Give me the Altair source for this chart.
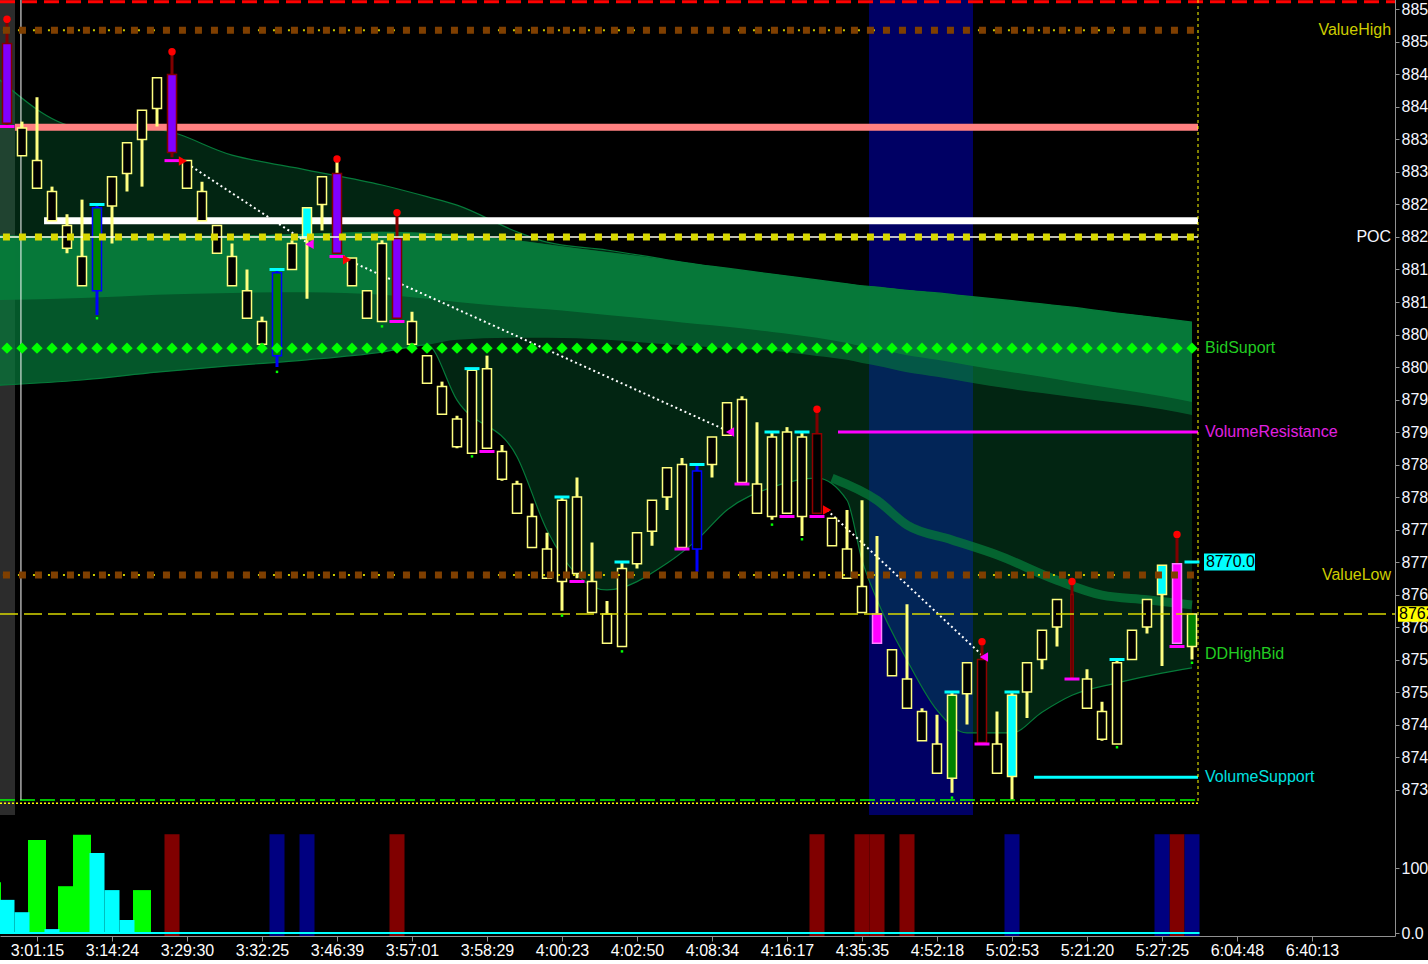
import altair as alt
import pandas as pd

# ---------------------------------------------------------------- candles
open_ = [8849.75, 8832.5, 8827.5, 8822.5, 8818.25, 8812.5, 8811.75, 8824.75, 8829.75, 8835,
         8839.75, 8845, 8827.5, 8822.5, 8817.5, 8812.5, 8807.5, 8803.5, 8801.75, 8815,
         8819.75, 8825, 8829.75, 8812.5, 8807.5, 8807, 8819.75, 8803.5, 8797.5, 8792.75,
         8787.75, 8786.75, 8787.5, 8782.75, 8777.5, 8772.25, 8767.5, 8767, 8768.25, 8762.25,
         8757.5, 8757, 8769.75, 8774.75, 8780, 8772.25, 8772, 8785, 8789.5, 8782.25,
         8777.5, 8777, 8777.5, 8777, 8789.75, 8772.5, 8767.5, 8762.25, 8762, 8752.5,
         8747.5, 8742.5, 8737.5, 8736.75, 8749.75, 8755, 8737.5, 8737, 8750, 8755,
         8760, 8765, 8747.5, 8742.75, 8742, 8755, 8760, 8765, 8769.75, 8757]
high = [8853.5, 8837.75, 8841.5, 8827.75, 8823.5, 8825.75, 8825, 8829.25, 8834.5, 8839.5,
        8844.5, 8848.5, 8831.75, 8828.5, 8821.75, 8819, 8815, 8807.75, 8815, 8819.5,
        8824.5, 8829.25, 8832, 8816.75, 8811.75, 8819.5, 8823.75, 8808.5, 8801.75, 8797.75,
        8792.5, 8799.75, 8801.75, 8788, 8782.5, 8779, 8774.5, 8780, 8783, 8773,
        8764, 8770, 8774.5, 8779.5, 8784.5, 8786, 8785, 8789.25, 8794.5, 8795.5,
        8791.5, 8790, 8790.75, 8790, 8793.5, 8776.75, 8778, 8779.5, 8774, 8756.5,
        8763.5, 8747.5, 8746.5, 8750, 8754.5, 8757.75, 8747, 8750, 8754.5, 8759.5,
        8764.25, 8767, 8753.5, 8748.5, 8755, 8759.5, 8764.25, 8769.5, 8774.25, 8762]
low = [8837.25, 8832.5, 8827.5, 8822.5, 8817.5, 8812.5, 8808, 8819, 8827, 8827.75,
       8837, 8832.25, 8827.5, 8822.5, 8817.5, 8812.5, 8807.5, 8803.5, 8800, 8815,
       8810.5, 8821, 8817.5, 8812.5, 8807.5, 8807, 8807.5, 8803.5, 8797.5, 8792.75,
       8787.5, 8786.75, 8787.5, 8782.5, 8777.5, 8772.25, 8767.5, 8762.5, 8767.5, 8762.25,
       8757.5, 8757, 8769, 8772.5, 8778, 8772.25, 8768.5, 8783, 8789.5, 8782.25,
       8777.5, 8776.5, 8777.5, 8774, 8777.5, 8772.5, 8767.5, 8762.25, 8757.5, 8752.5,
       8747.5, 8742.5, 8737.5, 8734.5, 8745, 8742.25, 8737.5, 8733.5, 8746, 8753.5,
       8757, 8752.25, 8747.5, 8742.5, 8742, 8755, 8759, 8754, 8757.5, 8755]
close = [8837.5, 8836.75, 8831.75, 8827, 8821.75, 8817, 8824.5, 8829.25, 8834.5, 8839.5,
         8844.5, 8833, 8831.75, 8827, 8821.75, 8817, 8811.75, 8807, 8814.5, 8819,
         8824.5, 8829.25, 8817.5, 8816.75, 8811.75, 8819, 8807.5, 8807, 8801.75, 8797,
         8792, 8799.5, 8799.75, 8787, 8782, 8777, 8772, 8779.5, 8780, 8767,
         8762, 8769, 8774.5, 8779.5, 8784.5, 8785, 8784, 8789.25, 8794.5, 8795,
         8782, 8789.25, 8790, 8789.25, 8777.5, 8776.75, 8772, 8766.25, 8757.5, 8756.5,
         8752, 8747, 8742, 8749.5, 8754.5, 8742.25, 8742, 8749.5, 8754.5, 8759.5,
         8764.25, 8752.25, 8752, 8747, 8754.5, 8759.5, 8764.25, 8769.5, 8757.5, 8762]
# bar painting code per candle
bar_style = ("pyyyyygyyy" "ypyyyyyygy" "cyPyyypyyy" "yyyyyyyyyy" "yyyyyybyyy"
             "yyyyryyymy" "yyyGyrycyy" "ytyyyyycMG")

# ---------------------------------------------------------------- markers
red_dot_i = [0, 11, 22, 26, 54, 65, 71, 78]
high_tick_i = [6, 18, 31, 37, 41, 46, 51, 53, 63, 67, 74, 79]
high_tick_p = [8825, 8815, 8799.75, 8780, 8770, 8785, 8790, 8790, 8750, 8750, 8755, 8770]
low_tick_i = [0, 11, 22, 26, 32, 38, 45, 49, 52, 54, 65, 71, 78]
low_tick_p = [8837, 8831.75, 8817, 8807, 8787, 8767, 8772, 8782, 8777, 8777, 8742, 8752, 8757]
green_dot_i = [6, 18, 25, 31, 37, 41, 51, 53, 63, 74, 79]
green_dot_p = [8807.5, 8799.25, 8806.25, 8786.25, 8761.75, 8756.25, 8775.75, 8773.5,
               8733.75, 8741.5, 8754.5]
sell_x = [11.73, 22.67, 54.67]
sell_p = [8831.7, 8816.5, 8778.0]
buy_x = [20.17, 48.2, 65.13]
buy_p = [8818.9, 8790.0, 8755.4]

# ---------------------------------------------------------------- levels
top_red = 8856.2
value_high = 8851.8
salmon_level = 8836.9
white_level = 8822.5
poc = 8820.0
bid_support = 8802.9
vol_resistance = 8790.0
marker_price = 8770.0
value_low = 8768.0
last_price = 8762.0
dd_high_bid = 8755.85
vol_support = 8736.9
green_floor = 8733.4
yellow_floor = 8732.9

# ---------------------------------------------------------------- ribbon
mesh_i = [-0.5, 5, 10, 15, 20, 25, 28, 30, 34, 36, 40, 44, 46, 48, 51, 54, 56, 57, 58, 60,
          62, 64, 67, 69, 71, 74, 77, 79]
mesh_top = [8844.2, 8836.8, 8836.5, 8832.6, 8830.3, 8828.0, 8826.2, 8824.9, 8820.8, 8819.2,
            8818.0, 8816.5, 8815.8, 8815.2, 8814.3, 8813.4, 8812.8, 8812.5, 8812.3, 8811.8,
            8811.4, 8810.9, 8810.2, 8809.7, 8809.2, 8808.3, 8807.5, 8806.9]
band_top = [8820.3, 8820.0, 8820.2, 8820.2, 8820.5, 8820.8, 8820.6, 8820.3, 8819.5, 8818.9,
            8817.7, 8816.5, 8815.8, 8815.2, 8814.3, 8813.4, 8812.8, 8812.5, 8812.3, 8811.8,
            8811.4, 8810.9, 8810.2, 8809.7, 8809.2, 8808.3, 8807.5, 8806.9]
band_solid_bot = [8810.3, 8810.6, 8811.1, 8811.4, 8811.5, 8811.1, 8810.5, 8810.0, 8809.2, 8808.9,
                  8808.0, 8807.1, 8806.6, 8806.2, 8805.4, 8804.5, 8803.7, 8803.2, 8802.8, 8801.8,
                  8801.1, 8800.3, 8799.2, 8798.5, 8797.7, 8796.6, 8795.5, 8794.6]
band_bot = [8797.2, 8798.0, 8799.2, 8800.2, 8801.1, 8802.3, 8803.4, 8804.2, 8804.5, 8804.5,
            8804.2, 8803.5, 8803.2, 8802.9, 8802.5, 8801.7, 8801.1, 8800.6, 8800.2, 8799.2,
            8798.5, 8797.7, 8796.6, 8796.0, 8795.4, 8794.5, 8793.5, 8792.6]
fan_bot = [8797.2, 8798.0, 8799.2, 8800.2, 8801.1, 8802.3, 8803.4, 8794.9, 8786.2, 8774.9,
           8765.7, 8769.8, 8773.4, 8778.0, 8781.5, 8782.9, 8779.5, 8770.3, 8764.2, 8754.9,
           8747.2, 8743.7, 8743.7, 8746.9, 8749.5, 8751.4, 8752.9, 8753.7]
band2_i = [55, 58, 60, 63, 66, 70, 73, 76, 79]
band2_p = [8782.9, 8779.5, 8775.7, 8773.4, 8771.1, 8767.2, 8764.9, 8764.2, 8763.4]

# ---------------------------------------------------------------- lower panel
green_vol_i = [-1, 2, 4, 5, 9]
green_vol = [78, 143, 72, 151, 66]
cyan_vol_i = [0, 1, 3, 6, 7, 8]
cyan_vol = [51, 32, 6, 123, 66, 20]
signal_red_i = [11, 26, 54, 57, 58, 60, 78]
signal_blue_i = [18, 20, 67, 77, 79]
signal_height = 152

time_labels = ["3:01:15", "3:14:24", "3:29:30", "3:32:25", "3:46:39", "3:57:01", "3:58:29",
               "4:00:23", "4:02:50", "4:08:34", "4:16:17", "4:35:35", "4:52:18", "5:02:53",
               "5:21:20", "5:27:25", "6:04:48", "6:40:13"]
time_ticks = [2 + 5 * k for k in range(len(time_labels))]
price_ticks = list(range(8735, 8860, 5))

# ---------------------------------------------------------------- styling
FONT = "Liberation Sans"
MESH = "#067a3a"
FILL = {"y": "#000000", "p": "#8000ff", "P": "#8000ff", "g": "#008000", "G": "#008000",
        "b": "#000000", "c": "#00ffff", "m": "#ff00ff", "M": "#ff00ff", "r": "#000000",
        "t": "#000000"}
STROKE = {"y": "#ffff80", "p": "#800000", "P": "#800000", "g": "#0000ff", "G": "#ffff80",
          "b": "#0000ff", "c": "#ffff80", "m": "#ff80ff", "M": "#ff80ff", "r": "#900000",
          "t": "#900000"}
WICK = {"y": "#ffff80", "p": "#800000", "P": "#ffff80", "g": "#0000ff", "G": "#ffff80",
        "b": "#0000ff", "c": "#ffff80", "m": "#ffff80", "M": "#800000", "r": "#800000",
        "t": "#800000"}

P_TOP, P_BOT = 8856.46, 8731.08
XS = alt.Scale(domain=[-7 / 15, 1388 / 15], nice=False, zero=False, padding=0)
# every price layer carries this same fixed mapping (815 px tall panel)
YS = alt.Scale(domain=[P_BOT, P_TOP], range=[815, 0], nice=False, zero=False, padding=0)
# volume panel: 0 at y=933, 100 at y=868
HS = alt.Scale(domain=[0, 100], range=[933, 868], nice=False, zero=False, padding=0)

label_expr = " : ".join(f"datum.value == {v} ? '{t}'" for v, t in zip(time_ticks, time_labels)) + " : ''"
# the shared time axis is declared identically on every layer so the merge keeps it
x_axis = alt.Axis(values=time_ticks, labelExpr=label_expr, title=None, grid=False,
                  tickSize=5, tickColor="#909090", domainColor="#909090",
                  labelColor="#ffffff", labelFont=FONT, labelFontSize=16, labelPadding=1,
                  labelOverlap=False, labelFlush=False)
y_axis = alt.Axis(orient="right", values=price_ticks, format=".1f", title=None, grid=False,
                  domain=False, tickSize=4, tickColor="#909090", labelColor="#f4f6ff",
                  labelFont=FONT, labelFontSize=16, labelPadding=2, labelOverlap=False)
h_axis = alt.Axis(orient="right", values=[0, 100], format=".1f", title=None, grid=False,
                  domain=False, tickSize=4, tickColor="#909090", labelColor="#f4f6ff",
                  labelFont=FONT, labelFontSize=16, labelPadding=2, labelOverlap=False)


def X(f):
    return alt.X(f, type="quantitative", scale=XS, axis=x_axis)


def Y(f, axis=None):
    return alt.Y(f, type="quantitative", scale=YS, axis=axis)


def H(f, axis=None):
    return alt.Y(f, type="quantitative", scale=HS, axis=axis)


def hrule(y, x0, x1, color, width, dash=None, opacity=1.0):
    df = pd.DataFrame({"x": [x0], "x2": [x1], "y": [y]})
    kw = dict(color=color, strokeWidth=width, opacity=opacity)
    if dash:
        kw["strokeDash"] = dash
    return alt.Chart(df).mark_rule(**kw).encode(x=X("x"), x2=alt.X2("x2"), y=Y("y"))


def vrule(x, y0, y1, color, width, dash=None):
    df = pd.DataFrame({"x": [x], "y": [y0], "y2": [y1]})
    kw = dict(color=color, strokeWidth=width)
    if dash:
        kw["strokeDash"] = dash
    return alt.Chart(df).mark_rule(**kw).encode(x=X("x"), y=Y("y"), y2=alt.Y2("y2"))


def region(x0, x1, color):
    df = pd.DataFrame({"x": [x0], "x2": [x1], "y": [P_TOP], "y2": [P_BOT]})
    return alt.Chart(df).mark_rect(color=color).encode(
        x=X("x"), x2=alt.X2("x2"), y=Y("y"), y2=alt.Y2("y2"))


# ---------------------------------------------------------------- frames
candles = pd.DataFrame({"i": range(len(open_)), "open": open_, "high": high, "low": low,
                        "close": close, "style": list(bar_style)})
candles["top"] = candles[["open", "close"]].max(axis=1)
candles["bot"] = candles[["open", "close"]].min(axis=1)
candles["fill"] = candles["style"].map(FILL)
candles["stroke"] = candles["style"].map(STROKE)
candles["wick"] = candles["style"].map(WICK)
wide = candles[candles["style"] != "t"]
thin = candles[candles["style"] == "t"]

mesh = pd.DataFrame({"i": mesh_i, "top": mesh_top, "band_top": band_top,
                     "solid_bot": band_solid_bot, "band_bot": band_bot, "fan_bot": fan_bot})
band2 = pd.DataFrame({"i": band2_i, "p": band2_p})

layers = []

# ---------------------------------------------------------------- volume panel
gv = pd.DataFrame({"i": green_vol_i, "v": green_vol})
cv = pd.DataFrame({"i": cyan_vol_i, "v": cyan_vol})
sig = pd.DataFrame({"i": signal_red_i + signal_blue_i,
                    "c": ["#800000"] * len(signal_red_i) + ["#000080"] * len(signal_blue_i),
                    "lo": [-4.6] * (len(signal_red_i) + len(signal_blue_i)),
                    "hi": [signal_height] * (len(signal_red_i) + len(signal_blue_i))})
base = pd.DataFrame({"x": [-0.5], "x2": [79.5], "v": [0]})
layers += [
    alt.Chart(gv).mark_bar(size=18, color="#00ff00").encode(x=X("i"), y=H("v", h_axis)),
    alt.Chart(cv).mark_bar(size=15, color="#00ffff").encode(x=X("i"), y=H("v")),
    alt.Chart(sig).mark_bar(size=15).encode(x=X("i"), y=H("lo"), y2=alt.Y2("hi"),
                                            color=alt.Color("c:N", scale=None)),
    alt.Chart(base).mark_rule(color="#00ffff", strokeWidth=2).encode(
        x=X("x"), x2=alt.X2("x2"), y=H("v")),
]

# ---------------------------------------------------------------- price panel
# price axis carried by two invisible points at the panel corners
axis_df = pd.DataFrame({"x": [-7 / 15, 1388 / 15], "y": [P_BOT, P_TOP]})
layers.append(alt.Chart(axis_df).mark_point(opacity=0).encode(x=X("x"), y=Y("y", y_axis)))

# background regions
layers.append(region(-7 / 15, 8 / 15, "#2c2c2c"))
layers.append(region(57.47, 64.4, "#000064"))

# moving-average ribbon
layers.append(alt.Chart(mesh).mark_area(color=MESH, opacity=0.3, interpolate="monotone").encode(
    x=X("i"), y=Y("top"), y2=alt.Y2("fan_bot")))
layers.append(alt.Chart(mesh).mark_area(color=MESH, opacity=0.6, interpolate="monotone").encode(
    x=X("i"), y=Y("band_top"), y2=alt.Y2("band_bot")))
layers.append(alt.Chart(mesh).mark_area(color=MESH, opacity=0.95, interpolate="monotone").encode(
    x=X("i"), y=Y("band_top"), y2=alt.Y2("solid_bot")))
for col in ["top", "fan_bot"]:
    layers.append(alt.Chart(mesh).mark_line(color=MESH, strokeWidth=1.2,
                                            interpolate="monotone").encode(x=X("i"), y=Y(col)))
layers.append(alt.Chart(band2).mark_line(color=MESH, strokeWidth=9, opacity=0.75,
                                         interpolate="monotone").encode(x=X("i"), y=Y("p")))

# solid levels behind the bars
layers.append(hrule(top_red, -7 / 15, 1388 / 15, "#ff0000", 3, [15, 7]))
layers.append(hrule(salmon_level, 0.53, 79.4, "#ff8080", 7))
layers.append(hrule(white_level, 2.47, 79.4, "#ffffff", 7))
layers.append(hrule(vol_resistance, 55.4, 79.4, "#ff00ff", 3))
layers.append(hrule(vol_support, 68.47, 79.4, "#00ffff", 3))
layers.append(hrule(green_floor, -7 / 15, 79.4, "#00ff00", 1.5, [15, 5]))
layers.append(hrule(yellow_floor, -7 / 15, 79.4, "#ffff00", 1.5, [2, 2]))
layers.append(vrule(0.93, P_TOP, green_floor, "#ffffff", 1))
layers.append(vrule(79.4, P_TOP, yellow_floor, "#ffff00", 1, [3, 3]))

# signal trend segments
seg = pd.DataFrame({"x": sell_x + buy_x, "p": sell_p + buy_p, "k": [0, 1, 2, 0, 1, 2]})
layers.append(alt.Chart(seg).mark_line(color="#ffffff", strokeWidth=2, strokeDash=[2, 3]).encode(
    x=X("x"), y=Y("p"), detail="k:N"))

# candles
layers.append(alt.Chart(candles).mark_rule(strokeWidth=3).encode(
    x=X("i"), y=Y("low"), y2=alt.Y2("high"), color=alt.Color("wick:N", scale=None)))
layers.append(alt.Chart(wide).mark_bar(size=9, strokeWidth=1.5).encode(
    x=X("i"), y=Y("top"), y2=alt.Y2("bot"),
    fill=alt.Fill("fill:N", scale=None), stroke=alt.Stroke("stroke:N", scale=None)))
layers.append(alt.Chart(thin).mark_bar(size=2, strokeWidth=1.5).encode(
    x=X("i"), y=Y("top"), y2=alt.Y2("bot"),
    fill=alt.Fill("fill:N", scale=None), stroke=alt.Stroke("stroke:N", scale=None)))

# dotted levels drawn over the bars
for lvl, col in [(value_high, "#7f3f00"), (value_low, "#7f3f00")]:
    layers.append(hrule(lvl, -0.27, 79.2, "#cccc00", 2, [2, 13]))
    layers.append(hrule(lvl, -0.27, 79.2, col, 7, [7, 9]))
layers.append(hrule(poc, -7 / 15, 79.4, "#fffff0", 1.5))
layers.append(hrule(poc, -0.27, 79.2, "#d8d800", 7, [7, 9]))
diamonds = pd.DataFrame({"i": list(range(len(open_))), "p": [bid_support] * len(open_)})
layers.append(alt.Chart(diamonds).mark_point(shape="diamond", filled=True, size=130,
                                             color="#00ff00", opacity=1).encode(
    x=X("i"), y=Y("p")))
layers.append(hrule(last_price, -7 / 15, 1388 / 15, "#d8d800", 1.5, [18, 6]))

# bar markers
hi_ticks = pd.DataFrame({"i": high_tick_i, "p": high_tick_p})
lo_ticks = pd.DataFrame({"i": low_tick_i, "p": low_tick_p})
gdots = pd.DataFrame({"i": green_dot_i, "p": green_dot_p})
rdots = candles[candles["i"].isin(red_dot_i)]
layers.append(alt.Chart(hi_ticks).mark_tick(orient="horizontal", size=15, thickness=3,
                                            color="#00ffff", opacity=1).encode(
    x=X("i"), y=Y("p")))
layers.append(alt.Chart(lo_ticks).mark_tick(orient="horizontal", size=15, thickness=3,
                                            color="#ff00ff", opacity=1).encode(
    x=X("i"), y=Y("p")))
layers.append(alt.Chart(gdots).mark_square(size=6, color="#00ff00", opacity=1).encode(
    x=X("i"), y=Y("p")))
layers.append(alt.Chart(rdots).mark_circle(size=55, color="#ff0000", opacity=1).encode(
    x=X("i"), y=Y("high")))
sells = pd.DataFrame({"x": sell_x, "p": sell_p})
buys = pd.DataFrame({"x": buy_x, "p": buy_p})
layers.append(alt.Chart(sells).mark_point(shape="triangle-right", filled=True, size=90,
                                          color="#ff0000", opacity=1).encode(x=X("x"), y=Y("p")))
layers.append(alt.Chart(buys).mark_point(shape="triangle-left", filled=True, size=90,
                                         color="#ff00ff", opacity=1).encode(x=X("x"), y=Y("p")))

# level names
left_lbl = pd.DataFrame({
    "x": [79.87] * 4,
    "p": [bid_support, vol_resistance, dd_high_bid, vol_support],
    "t": ["BidSuport", "VolumeResistance", "DDHighBid", "VolumeSupport"],
    "c": ["#22cc22", "#e020e0", "#22cc22", "#00e0e0"]})
right_lbl = pd.DataFrame({
    "x": [92.27] * 3,
    "p": [value_high, poc, value_low],
    "t": ["ValueHigh", "POC", "ValueLow"],
    "c": ["#cccc00", "#f4f6ff", "#cccc00"]})
for df, al in [(left_lbl, "left"), (right_lbl, "right")]:
    layers.append(alt.Chart(df).mark_text(align=al, baseline="middle", font=FONT,
                                          fontSize=16).encode(
        x=X("x"), y=Y("p"), text="t:N", color=alt.Color("c:N", scale=None)))

# price flags
flags = pd.DataFrame({"x": [79.8, 92.73], "x2": [83.2, 96.0],
                      "y": [marker_price + 1.3, last_price + 1.2],
                      "y2": [marker_price - 1.3, last_price - 1.2],
                      "c": ["#00ffff", "#ffff00"],
                      "tx": [79.93, 92.8], "p": [marker_price, last_price],
                      "t": [f"{marker_price:.1f}", f"{last_price:.1f}"]})
layers.append(alt.Chart(flags).mark_rect().encode(
    x=X("x"), x2=alt.X2("x2"), y=Y("y"), y2=alt.Y2("y2"), color=alt.Color("c:N", scale=None)))
layers.append(alt.Chart(flags).mark_text(align="left", baseline="middle", font=FONT,
                                         fontSize=16, color="#000000").encode(
    x=X("tx"), y=Y("p"), text="t:N"))

# right-hand axis line through both panels
layers.append(vrule(92.567, P_TOP, 8712.4, "#909090", 1))

chart = (
    alt.layer(*layers)
    .resolve_scale(y="independent")
    .properties(width=1395, height=936, background="#000000",
                autosize=alt.AutoSizeParams(type="none"),
                padding={"left": 0, "top": 0, "right": 33, "bottom": 24})
    .configure_view(stroke=None)
)

chart.save("out.html", embed_options={"renderer": "svg", "actions": False})
